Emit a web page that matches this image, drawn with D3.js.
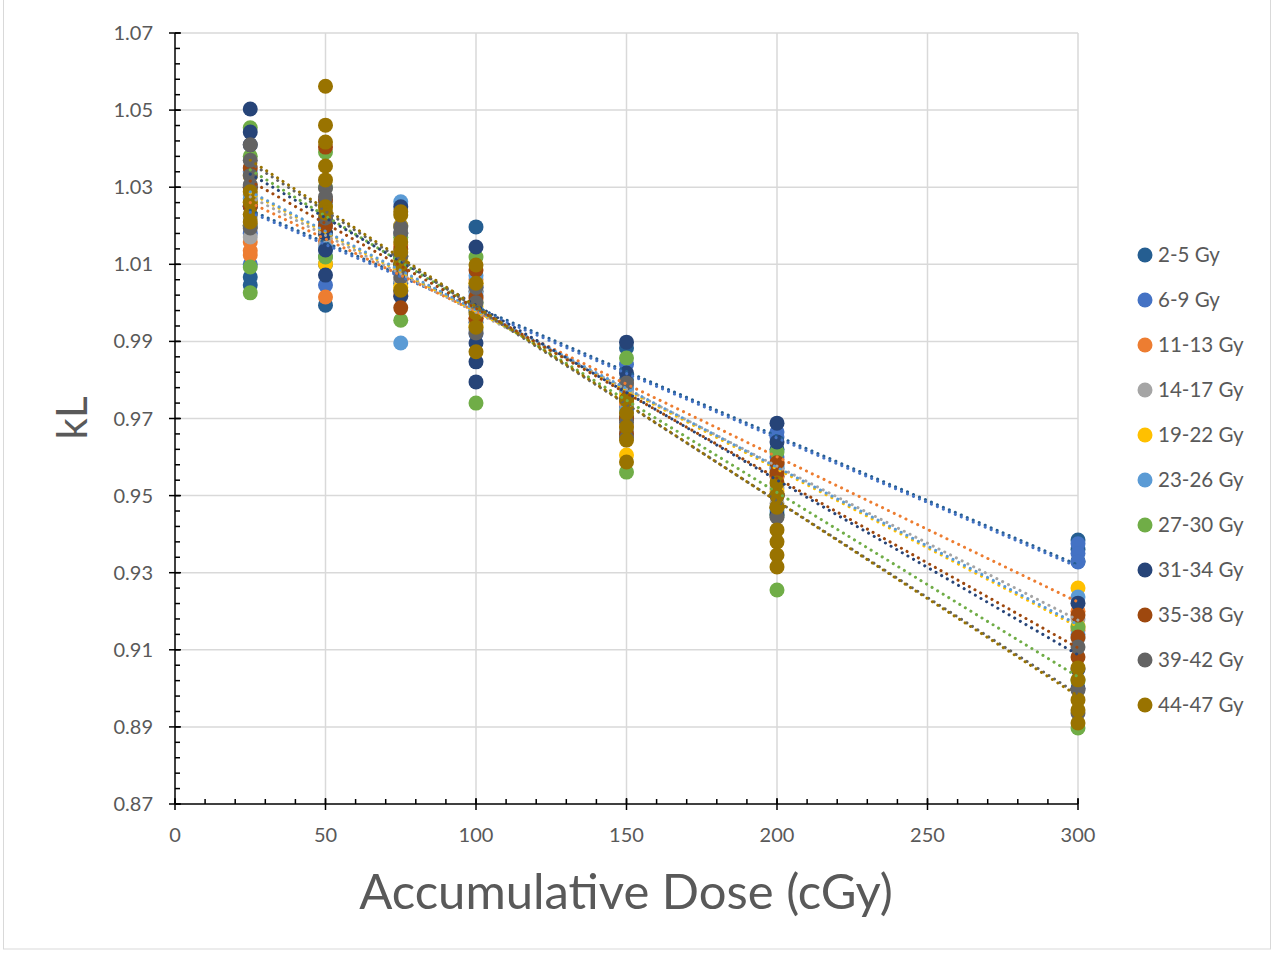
<!DOCTYPE html>
<html><head><meta charset="utf-8">
<script src="https://cdn.jsdelivr.net/npm/d3@7"></script>
<style>body{margin:0;background:#fff}svg{display:block}</style>
</head><body>
<svg id="c" width="1274" height="954"></svg>
<script>
// ---- data ----
const doses = [25, 50, 75, 100, 150, 200, 300];
const seriesNames = ["2-5 Gy","6-9 Gy","11-13 Gy","14-17 Gy","19-22 Gy","23-26 Gy","27-30 Gy","31-34 Gy","35-38 Gy","39-42 Gy","44-47 Gy"];
const palette = ["#255E91","#4472C4","#ED7D31","#A5A5A5","#FFC000","#5B9BD5","#70AD47","#264478","#9E480E","#636363","#997300"];
// kL values per series, one inner list per dose (25,50,75,100,150,200,300)
const kL_2_5   = [[1.0046,1.0067,1.020,1.030],[0.9994,1.010,1.018],[1.005,1.012,1.020],[1.0197,0.995,1.003],[0.9883,0.980,0.975],[0.962,0.958,0.955],[0.9385,0.936,0.933]];
const kL_6_9   = [[1.010,1.018,1.025],[1.0046,1.012,1.020],[1.003,1.010,1.018],[0.998,1.004,0.992],[0.984,0.978,0.973],[0.9665,0.9652,0.960],[0.9375,0.935,0.9328]];
const kL_11_13 = [[1.0124,1.0135,1.0158,1.020],[1.0015,1.016,1.022],[1.002,1.008,1.015],[1.001,0.996,1.006],[0.979,0.974,0.968],[0.9585,0.955,0.950],[0.920,0.915]];
const kL_14_17 = [[1.0171,1.022,1.028],[1.015,1.020,1.024],[1.006,1.012,1.018],[0.997,1.003,0.993],[0.977,0.971,0.967],[0.957,0.952,0.948],[0.918,0.913]];
const kL_19_22 = [[1.020,1.026,1.033],[1.0101,1.018,1.025],[1.004,1.011,1.020],[0.999,1.005,0.994],[0.9605,0.972,0.976],[0.956,0.951,0.947],[0.926,0.916]];
const kL_23_26 = [[1.020,1.027,1.034],[1.014,1.021,1.026],[0.9896,1.0262,1.008],[0.998,1.002,1.007],[0.978,0.972,0.966],[0.957,0.950,0.946],[0.9237,0.914]];
const kL_27_30 = [[1.0026,1.0093,1.0454,1.038],[1.0119,1.0391,1.030],[0.9955,1.010,1.017],[1.0119,0.974,1.000],[0.9857,0.9561,0.970],[0.9613,0.9255,0.945],[0.9159,0.8897,0.902]];
const kL_31_34 = [[1.0503,1.0443,1.041,1.025],[1.0072,1.0137,1.018,1.0215],[1.0249,1.0017,1.010],[1.0145,0.9896,0.9847,0.9795],[0.9898,0.9818,0.970],[0.9688,0.9639,0.950,0.945],[0.9221,0.905,0.900]];
const kL_35_38 = [[1.030,1.025,1.035],[1.0404,1.0267,1.020],[0.9987,1.008,1.014],[1.0085,1.0015,0.996],[0.975,0.970,0.966],[0.9585,0.9559,0.950],[0.919,0.9133,0.9081]];
const kL_39_42 = [[1.041,1.037,1.033,1.0306,1.0194],[1.0298,1.0275,1.022],[1.0197,1.0181,1.0067,1.012],[0.9922,1.000,1.004],[0.9792,0.969,0.965],[0.9444,0.947,0.950],[0.9107,0.8996,0.8936]];
const kL_44_47 = [[1.0288,1.026,1.023,1.021],[1.0562,1.0461,1.0417,1.0355,1.0319,1.0249,1.0233],[1.0236,1.0228,1.0158,1.0132,1.0033,1.010],[1.0098,1.0051,0.9974,0.9937,0.9873],[0.9748,0.9714,0.9678,0.9644,0.9587],[0.9533,0.950,0.947,0.9411,0.938,0.9346,0.9315],[0.9053,0.9022,0.897,0.8944,0.891]];
const seriesValues = [kL_2_5,kL_6_9,kL_11_13,kL_14_17,kL_19_22,kL_23_26,kL_27_30,kL_31_34,kL_35_38,kL_39_42,kL_44_47];
// linear trendline values at dose 25 and dose 300
const trendAt25  = [1.0240,1.0235,1.0260,1.0275,1.0285,1.0288,1.0345,1.0334,1.0316,1.0363,1.0370];
const trendAt300 = [0.9320,0.9315,0.9224,0.9177,0.9160,0.9165,0.9030,0.9087,0.9105,0.8985,0.8980];
const trendX = [25, 300];
const xTicks = [0,50,100,150,200,250,300];
const yTicks = [0.87,0.89,0.91,0.93,0.95,0.97,0.99,1.01,1.03,1.05,1.07];
const xTitle = "Accumulative Dose (cGy)";
const yTitle = "kL";

// ---- drawing ----
const svg = d3.select("#c");
const font = "Lato, 'Open Sans', sans-serif";
const L = 175, R = 1078, T = 33, B = 804;
const x = d3.scaleLinear().domain([0,300]).range([L,R]);
const y = d3.scaleLinear().domain([0.87,1.07]).range([B,T]);

svg.append("rect").attr("x",3.5).attr("y",-1).attr("width",1267).attr("height",950)
  .attr("fill","#fff").attr("stroke","#d9d9d9").attr("stroke-width",1);

// gridlines
const g = svg.append("g");
g.selectAll(".hg").data(yTicks.slice(1)).join("line")
  .attr("x1",L).attr("x2",R).attr("y1",d=>y(d)).attr("y2",d=>y(d))
  .attr("stroke","#d9d9d9").attr("stroke-width",1.5);
g.selectAll(".vg").data(xTicks.slice(1)).join("line")
  .attr("y1",T).attr("y2",B).attr("x1",d=>x(d)).attr("x2",d=>x(d))
  .attr("stroke","#d9d9d9").attr("stroke-width",1.5);

// axes
const yMinor = d3.range(0.87, 1.0701, 0.004);
const xMinor = d3.range(0, 301, 10);
const ax = svg.append("g").attr("stroke","#000").attr("stroke-width",1.5);
ax.append("line").attr("x1",L).attr("x2",L).attr("y1",T).attr("y2",B);
ax.append("line").attr("x1",L).attr("x2",R).attr("y1",B).attr("y2",B);
ax.selectAll(".ym").data(yMinor).join("line")
  .attr("x1",L).attr("x2",L+5).attr("y1",d=>y(d)).attr("y2",d=>y(d));
ax.selectAll(".yM").data(yTicks).join("line")
  .attr("x1",L-6).attr("x2",L+6).attr("y1",d=>y(d)).attr("y2",d=>y(d));
ax.selectAll(".xm").data(xMinor).join("line")
  .attr("x1",d=>x(d)).attr("x2",d=>x(d)).attr("y1",B).attr("y2",B-5);
ax.selectAll(".xM").data(xTicks).join("line")
  .attr("x1",d=>x(d)).attr("x2",d=>x(d)).attr("y1",B-6).attr("y2",B+6);

svg.selectAll(".yl").data(yTicks).join("text")
  .attr("x",153).attr("y",d=>y(d)).attr("dy","0.35em").attr("text-anchor","end")
  .attr("font-family",font).attr("font-size",20).attr("fill","#595959")
  .text(d=>d3.format(".2f")(d));
svg.selectAll(".xl").data(xTicks).join("text")
  .attr("x",d=>x(d)).attr("y",835).attr("dy","0.35em").attr("text-anchor","middle")
  .attr("font-family",font).attr("font-size",20).attr("fill","#595959")
  .text(d=>d);

svg.append("text").attr("x",626).attr("y",892).attr("dy","0.35em").attr("text-anchor","middle")
  .attr("font-family",font).attr("font-size",49).attr("fill","#595959").text(xTitle);
svg.append("text").attr("transform","translate(72,418) rotate(-90)").attr("dy","0.35em")
  .attr("text-anchor","middle").attr("font-family",font).attr("font-size",42).attr("fill","#595959").text(yTitle);

// points
seriesValues.forEach((vals,si)=>{
  const pts = [];
  vals.forEach((arr,di)=>arr.forEach(v=>pts.push([doses[di],v])));
  svg.append("g").selectAll("circle").data(pts).join("circle")
    .attr("cx",d=>x(d[0])).attr("cy",d=>y(d[1])).attr("r",7.5)
    .attr("fill",palette[si]);
});
// trendlines
seriesValues.forEach((vals,si)=>{
  svg.append("line")
    .attr("x1",x(trendX[0])).attr("y1",y(trendAt25[si]))
    .attr("x2",x(trendX[1])).attr("y2",y(trendAt300[si]))
    .attr("stroke",palette[si]).attr("stroke-width",3)
    .attr("stroke-linecap","round").attr("stroke-dasharray","0.1 6.4");
});

// legend
const lg = svg.append("g");
seriesNames.forEach((n,i)=>{
  const yy = 255 + i*45;
  lg.append("circle").attr("cx",1145).attr("cy",yy).attr("r",7.5).attr("fill",palette[i]);
  lg.append("text").attr("x",1158).attr("y",yy).attr("dy","0.35em")
    .attr("font-family",font).attr("font-size",20.5).attr("fill","#595959").text(n);
});
</script>
</body></html>
